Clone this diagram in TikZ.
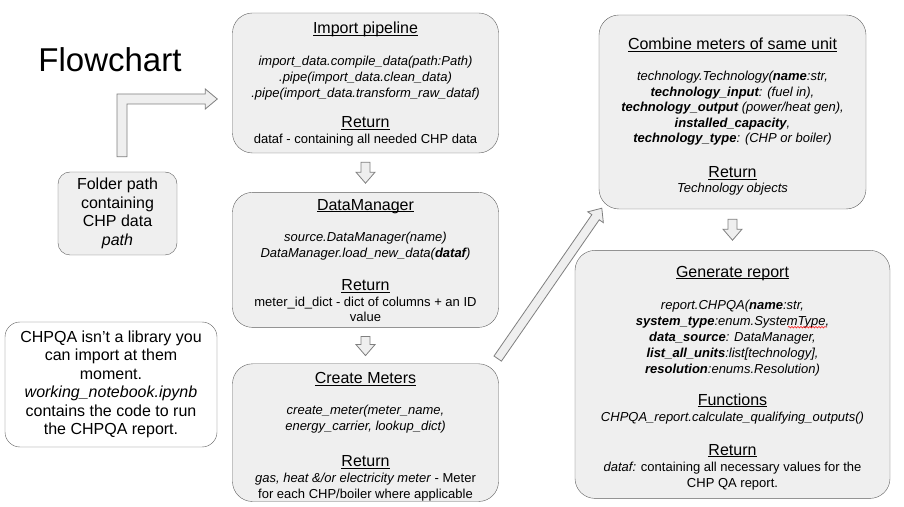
\documentclass[tikz,border=0pt]{standalone}
\usepackage{fontspec}
\setmainfont{Liberation Sans}
\usepackage{tikz}
\usetikzlibrary{positioning,calc,decorations.pathmorphing}
\definecolor{boxfill}{HTML}{EFEFEF}
\definecolor{boxline}{HTML}{5F5F5F}
\definecolor{arrowline}{HTML}{7F7F7F}
% underlined heading inside a box
\newcommand{\hd}[1]{{\fontsize{16}{16.5}\selectfont
  \underline{\raisebox{0pt}[\height][0pt]{#1}}}}
% hollow block arrow from #1 to #2
\newcommand{\hollowto}[2]{%
  \coordinate (headbase) at ($(#2)!11pt!(#1)$);
  \draw[hollowarrow] ($(#1)!4.5pt!-90:(#2)$) -- ($(headbase)!4.5pt!-90:(#2)$)
    -- ($(headbase)!9.5pt!-90:(#2)$) -- (#2) -- ($(headbase)!9.5pt!90:(#2)$)
    -- ($(headbase)!4.5pt!90:(#2)$) -- ($(#1)!4.5pt!90:(#2)$) -- cycle;}
\tikzset{%
  % Specifications for style of nodes:
         stage/.style = {rectangle, rounded corners=20pt, draw=boxline,
                         fill=boxfill, minimum width=266pt, inner sep=0pt,
                         align=center, font=\fontsize{13}{16}\selectfont},
        inputs/.style = {stage, rounded corners=12pt, minimum width=119pt,
                         minimum height=83pt, font=\fontsize{16}{18.5}\selectfont},
          memo/.style = {inputs, fill=white, minimum width=212pt,
                         minimum height=125pt, rounded corners=15pt},
   hollowarrow/.style = {draw=arrowline, fill=boxfill, line width=0.8pt,
                         line join=miter},
     spellmark/.style = {red, line width=0.5pt, decorate,
                         decoration={snake, amplitude=0.8pt, segment length=3pt}},
}
\begin{document}
\begin{tikzpicture}[x=1pt, y=1pt]
  \useasboundingbox (0,0) rectangle (904,506);
  % Specification of nodes (position, etc.)
  \node (title)   at (110,446) {\fontsize{33}{36}\selectfont Flowchart};
  \node (import)  [stage, minimum height=140pt] at (365.5,423)
    {\rule{0pt}{14pt}\hd{Import pipeline}\\[16pt]
     \textit{import\_data.compile\_data(path:Path)}\\
     \textit{.pipe(import\_data.clean\_data)}\\
     \textit{.pipe(import\_data.transform\_raw\_dataf)}\\[14pt]
     \hd{Return}\\
     dataf - containing all needed CHP data};
  \node (datamgr) [stage, minimum height=135pt, below=39pt of import,
                   font=\fontsize{13}{15.5}\selectfont]
    {\rule{0pt}{12pt}\hd{DataManager}\\[16pt]
     \textit{source.DataManager(name)}\\
     \textit{DataManager.load\_new\_data(\textbf{dataf})}\\[18pt]
     \hd{Return}\\
     meter\_id\_dict - dict of columns + an ID\\
     value};
  \node (meters)  [stage, minimum height=134pt, below=36pt of datamgr]
    {\rule{0pt}{20pt}\hd{Create Meters}\\[15pt]
     \textit{create\_meter(meter\_name,}\\
     \textit{energy\_carrier, lookup\_dict)}\\[20pt]
     \hd{Return}\\
     \textit{gas, heat \&/or electricity meter} - Meter\\
     for each CHP/boiler where applicable};
  \node (combine) [stage, minimum width=267pt, minimum height=194pt,
                   font=\fontsize{13}{15.5}\selectfont] at (732.5,394)
    {\rule{0pt}{21pt}\hd{Combine meters of same unit}\\[16pt]
     \textit{technology.Technology(\textbf{name}:str,}\\
     \textit{\textbf{technology\_input}: (fuel in),}\\
     \textit{\textbf{technology\_output} (power/heat gen),}\\
     \textit{\textbf{installed\_capacity},}\\
     \textit{\textbf{technology\_type}: (CHP or boiler)}\\[19pt]
     \hd{Return}\\
     \textit{Technology objects}};
  \node (report)  [stage, minimum width=315pt, minimum height=248pt,
                   below=41pt of combine]
    {\rule{0pt}{18pt}\hd{Generate report}\\[16pt]
     \textit{report.CHPQA(\textbf{name}:str,}\\
     \textit{\textbf{system\_type}:enum.SystemType,}\\
     \textit{\textbf{data\_source}: DataManager,}\\
     \textit{\textbf{list\_all\_units}:list[technology],}\\
     \textit{\textbf{resolution}:enums.Resolution)}\\[16pt]
     \hd{Functions}\\
     \textit{CHPQA\_report.calculate\_qualifying\_outputs()}\\[18pt]
     \hd{Return}\\
     \textit{dataf:} containing all necessary values for the\\
     CHP QA report.};
  \node (folder)  [inputs] at (117.5,292.5)
    {Folder path\\ containing\\ CHP data\\ \textit{path}};
  \node (note)    [memo] at (111,121.5)
    {CHPQA isn’t a library you\\ can import at them\\ moment.\\
     \textit{working\_notebook.ipynb}\\ contains the code to run\\
     the CHPQA report.};

  % Specification of arrows between nodes specified above
  \coordinate (bendFoot) at ($(folder.north)+(4.5,15)$);
  \coordinate (bendTip)  at ($(import.west)+(-15,-16)$);
  \draw[hollowarrow] ([xshift=-5pt]bendFoot) |- ([xshift=-12pt,yshift=5pt]bendTip)
    -- ++(0,5) -- (bendTip) -- ([xshift=-12pt,yshift=-10pt]bendTip) -- ++(0,5)
    -| ([xshift=5pt]bendFoot) -- cycle;
  \coordinate (importOut)  at ($(import.south)+(0,-9)$);
  \coordinate (datamgrIn)  at ($(datamgr.north)+(0,9)$);
  \coordinate (datamgrOut) at ($(datamgr.south)+(0,-9)$);
  \coordinate (metersIn)   at ($(meters.north)+(0,8)$);
  \coordinate (metersOut)  at ($(meters.north east)+(-1,5)$);
  \coordinate (combineIn)  at ($(combine.south west)+(3,1)$);
  \coordinate (combineOut) at ($(combine.south)+(0,-10)$);
  \coordinate (reportIn)   at ($(report.north)+(0,10)$);
  \hollowto{importOut}{datamgrIn}
  \hollowto{datamgrOut}{metersIn}
  \hollowto{metersOut}{combineIn}
  \hollowto{combineOut}{reportIn}
  \draw[spellmark] ($(report.north)+(55.5,-77)$) -- ++(39,0);
\end{tikzpicture}
\end{document}
